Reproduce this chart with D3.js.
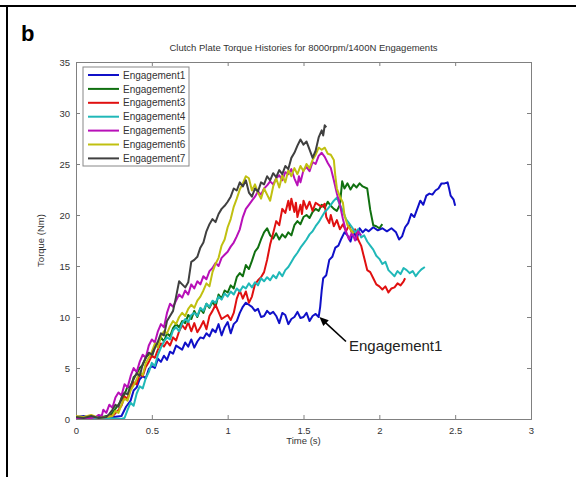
<!DOCTYPE html>
<html><head><meta charset="utf-8">
<script src="https://cdn.jsdelivr.net/npm/d3@7"></script>
<style>body{margin:0;background:#fff}svg{display:block}text{font-family:"Liberation Sans",Arial,sans-serif}</style>
</head><body>
<script>
const seriesNames = ["Engagement1","Engagement2","Engagement3","Engagement4","Engagement5","Engagement6","Engagement7"];
const seriesColors = ["#1010c8","#107010","#e01010","#20b8b8","#b810b8","#c0c010","#404040"];
const xTicks = [0,0.5,1,1.5,2,2.5,3];
const yTicks = [0,5,10,15,20,25,30,35];
const titleText = "Clutch Plate Torque Histories for 8000rpm/1400N Engagements";
const xLabel = "Time (s)";
const yLabel = "Torque (Nm)";
const annotation = {text:"Engagement1", point:[1.605,10.0], tail:[1.78,7.6]};

const eng1 = [[0,0.2],[0.05,0.3],[0.1,0.1],[0.15,0.2],[0.2,0.1],[0.25,0.2],[0.3,0.3],[0.33,1.2],[0.36,1.8],[0.38,2.8],[0.4,3.1],[0.42,3.9],[0.44,4.2],[0.46,4.0],[0.48,4.9],[0.5,5.2],[0.52,5.0],[0.54,5.9],[0.56,5.6],[0.58,6.2],[0.6,5.8],[0.62,6.6],[0.64,6.4],[0.66,7.2],[0.68,7.0],[0.7,6.8],[0.72,7.5],[0.74,7.1],[0.76,7.8],[0.78,7.0],[0.8,7.6],[0.82,8.0],[0.84,7.9],[0.86,8.4],[0.88,8.1],[0.9,8.8],[0.92,8.5],[0.94,9.3],[0.96,8.2],[0.98,9.0],[1.0,9.5],[1.02,8.4],[1.04,9.3],[1.06,9.6],[1.08,10.4],[1.1,11.0],[1.12,11.4],[1.14,11.2],[1.16,11.0],[1.18,10.6],[1.2,10.8],[1.22,10.0],[1.24,10.1],[1.26,10.6],[1.28,10.3],[1.3,10.5],[1.32,10.1],[1.34,9.4],[1.36,10.4],[1.38,10.2],[1.4,9.3],[1.42,9.8],[1.44,10.0],[1.46,10.5],[1.48,9.9],[1.5,10.0],[1.52,10.4],[1.54,9.6],[1.56,10.1],[1.58,10.3],[1.6,10.0],[1.61,11.0],[1.62,12.6],[1.63,13.8],[1.65,14.1],[1.67,15.6],[1.69,15.9],[1.71,16.8],[1.73,17.0],[1.75,17.7],[1.77,18.3],[1.79,18.0],[1.81,17.4],[1.83,18.5],[1.85,17.6],[1.87,18.7],[1.89,18.3],[1.91,18.6],[1.93,18.4],[1.96,18.8],[1.99,18.5],[2.02,18.7],[2.05,18.4],[2.08,18.7],[2.11,18.3],[2.13,17.6],[2.15,17.9],[2.17,18.8],[2.19,19.2],[2.21,20.1],[2.23,19.8],[2.25,20.6],[2.27,21.4],[2.29,21.0],[2.31,21.9],[2.33,22.1],[2.35,22.0],[2.37,22.4],[2.39,22.6],[2.41,23.1],[2.43,23.1],[2.45,23.2],[2.46,22.6],[2.47,21.9],[2.49,21.5],[2.5,20.9]];
const eng2 = [[0,0.1],[0.05,0.2],[0.1,0.0],[0.15,0.1],[0.2,0.3],[0.22,0.2],[0.25,0.8],[0.28,1.4],[0.3,1.9],[0.32,2.4],[0.34,3.2],[0.36,3.0],[0.38,4.1],[0.4,4.4],[0.42,5.0],[0.44,5.3],[0.46,6.0],[0.48,6.4],[0.5,6.1],[0.52,7.0],[0.54,7.4],[0.56,8.0],[0.58,7.6],[0.6,8.4],[0.62,8.1],[0.64,8.9],[0.66,9.3],[0.68,9.0],[0.7,9.6],[0.72,9.4],[0.74,10.2],[0.76,9.8],[0.78,10.6],[0.8,10.0],[0.82,10.8],[0.84,10.4],[0.86,11.3],[0.88,10.9],[0.9,11.5],[0.92,11.0],[0.94,12.2],[0.96,11.8],[0.98,12.6],[1.0,12.4],[1.02,13.1],[1.04,12.8],[1.06,13.9],[1.08,14.3],[1.1,14.0],[1.12,15.1],[1.14,14.7],[1.16,15.5],[1.18,16.4],[1.2,16.8],[1.22,17.6],[1.24,18.3],[1.26,18.7],[1.28,18.0],[1.3,17.7],[1.32,18.2],[1.34,17.6],[1.36,18.1],[1.38,17.8],[1.4,18.3],[1.42,18.0],[1.44,19.0],[1.46,19.4],[1.48,19.1],[1.5,19.8],[1.52,20.0],[1.54,19.7],[1.56,20.3],[1.58,20.6],[1.6,20.4],[1.62,21.0],[1.64,20.7],[1.66,21.3],[1.68,20.9],[1.7,20.6],[1.72,20.4],[1.74,21.0],[1.755,23.3],[1.77,22.6],[1.79,23.1],[1.81,22.5],[1.83,23.0],[1.85,22.7],[1.87,23.1],[1.89,22.8],[1.92,22.6],[1.94,20.5],[1.96,19.0],[1.98,18.9],[2.0,18.7],[2.02,19.1]];
const eng3 = [[0,0.2],[0.05,0.0],[0.1,0.1],[0.15,0.0],[0.2,0.2],[0.25,0.4],[0.28,0.9],[0.3,1.3],[0.32,2.2],[0.34,2.0],[0.36,3.0],[0.38,3.6],[0.4,3.4],[0.42,4.4],[0.44,4.2],[0.46,5.1],[0.48,5.6],[0.5,6.2],[0.52,6.0],[0.54,6.8],[0.56,7.4],[0.58,7.1],[0.6,7.6],[0.62,7.2],[0.64,8.0],[0.66,7.7],[0.68,8.6],[0.7,9.2],[0.72,8.8],[0.74,9.5],[0.76,8.6],[0.78,9.4],[0.8,8.5],[0.82,9.0],[0.84,9.6],[0.86,8.8],[0.88,10.1],[0.9,10.6],[0.92,11.2],[0.94,10.5],[0.96,9.8],[0.98,10.0],[1.0,10.2],[1.02,9.7],[1.04,10.4],[1.06,11.8],[1.08,12.6],[1.1,11.8],[1.12,12.5],[1.14,11.4],[1.16,12.0],[1.18,13.2],[1.2,13.6],[1.22,13.9],[1.24,14.4],[1.26,15.6],[1.28,17.1],[1.3,18.2],[1.32,19.4],[1.34,19.0],[1.36,20.6],[1.38,20.2],[1.4,21.4],[1.41,20.5],[1.42,21.6],[1.44,20.3],[1.45,21.2],[1.46,19.8],[1.48,21.0],[1.49,20.1],[1.5,21.4],[1.52,20.6],[1.54,21.3],[1.56,20.4],[1.58,21.2],[1.6,21.0],[1.62,20.8],[1.64,21.1],[1.65,19.8],[1.67,19.2],[1.68,20.0],[1.7,18.9],[1.72,19.5],[1.74,18.6],[1.76,19.1],[1.78,18.4],[1.8,19.0],[1.82,18.2],[1.84,18.6],[1.86,17.6],[1.88,17.0],[1.9,15.8],[1.92,14.6],[1.94,14.4],[1.96,13.8],[1.98,13.2],[2.0,13.0],[2.02,12.7],[2.04,13.0],[2.06,12.4],[2.08,12.8],[2.1,12.9],[2.12,13.3],[2.14,13.1],[2.16,13.5],[2.17,13.8]];
const eng4 = [[0,0.1],[0.1,0.0],[0.2,0.1],[0.3,0.0],[0.32,0.1],[0.34,0.9],[0.36,1.6],[0.38,1.3],[0.4,2.5],[0.42,3.2],[0.44,3.0],[0.46,4.0],[0.48,4.6],[0.5,5.5],[0.52,5.2],[0.54,6.3],[0.56,7.0],[0.58,7.6],[0.6,8.0],[0.62,7.8],[0.64,8.7],[0.66,9.0],[0.68,8.6],[0.7,9.4],[0.72,9.8],[0.74,9.5],[0.76,10.2],[0.78,10.4],[0.8,10.1],[0.82,10.9],[0.84,10.6],[0.86,11.3],[0.88,11.0],[0.9,11.6],[0.92,11.4],[0.94,12.0],[0.96,11.7],[0.98,12.3],[1.0,12.0],[1.02,12.5],[1.04,12.2],[1.06,12.8],[1.08,12.5],[1.1,13.0],[1.12,12.8],[1.14,13.3],[1.16,12.9],[1.18,13.4],[1.2,13.1],[1.22,13.8],[1.24,13.5],[1.26,13.9],[1.28,13.6],[1.3,14.1],[1.32,13.8],[1.34,14.4],[1.36,14.0],[1.38,14.6],[1.4,14.9],[1.42,15.4],[1.44,15.9],[1.46,16.3],[1.48,16.8],[1.5,17.2],[1.52,17.6],[1.54,18.1],[1.56,18.4],[1.58,18.9],[1.6,19.3],[1.62,19.8],[1.64,20.3],[1.66,20.6],[1.68,21.0],[1.7,21.4],[1.72,21.7],[1.74,21.0],[1.76,20.4],[1.78,19.6],[1.8,19.2],[1.82,18.8],[1.84,18.3],[1.86,18.6],[1.88,17.8],[1.9,18.0],[1.92,17.4],[1.94,17.0],[1.96,16.6],[1.98,16.0],[2.0,15.7],[2.02,15.2],[2.04,15.4],[2.06,14.6],[2.08,14.3],[2.1,14.0],[2.12,14.5],[2.14,14.2],[2.16,14.8],[2.18,14.6],[2.2,14.3],[2.22,14.5],[2.24,14.0],[2.26,14.4],[2.28,14.7],[2.3,14.9]];
const eng5 = [[0,0.1],[0.05,0.0],[0.1,0.1],[0.13,0.2],[0.15,0.4],[0.17,0.3],[0.18,0.9],[0.2,0.6],[0.22,1.4],[0.24,1.1],[0.26,2.1],[0.28,2.6],[0.3,2.3],[0.32,3.4],[0.34,3.1],[0.36,4.2],[0.38,5.0],[0.4,4.6],[0.42,5.6],[0.44,6.3],[0.46,6.0],[0.48,7.2],[0.5,7.8],[0.52,7.5],[0.54,8.6],[0.56,9.3],[0.58,9.0],[0.6,10.4],[0.62,11.3],[0.64,11.0],[0.66,11.6],[0.68,12.2],[0.7,11.9],[0.72,12.6],[0.74,12.2],[0.76,13.2],[0.78,12.8],[0.8,13.5],[0.82,13.2],[0.84,14.0],[0.86,13.7],[0.88,14.5],[0.9,14.8],[0.92,15.3],[0.94,15.0],[0.96,15.8],[0.98,16.1],[1.0,16.4],[1.02,16.9],[1.04,17.3],[1.06,17.9],[1.08,18.6],[1.1,19.8],[1.12,20.6],[1.14,21.0],[1.16,21.4],[1.18,21.8],[1.2,22.3],[1.22,22.0],[1.24,22.6],[1.26,22.9],[1.28,23.3],[1.3,23.0],[1.32,23.6],[1.34,23.9],[1.36,23.4],[1.38,24.2],[1.4,24.0],[1.42,24.5],[1.44,23.6],[1.46,22.9],[1.47,23.8],[1.48,23.2],[1.5,24.4],[1.52,24.7],[1.54,24.3],[1.56,25.2],[1.58,25.0],[1.6,25.8],[1.62,26.1],[1.64,25.7],[1.66,25.1],[1.68,24.6],[1.7,23.4],[1.72,22.1],[1.74,21.0],[1.76,19.6],[1.78,18.4],[1.8,17.6],[1.82,18.3],[1.84,17.5],[1.86,18.4],[1.88,18.0]];
const eng6 = [[0,0.3],[0.05,0.2],[0.1,0.4],[0.15,0.1],[0.2,0.2],[0.24,0.3],[0.26,0.8],[0.28,0.6],[0.3,1.4],[0.32,2.0],[0.34,1.8],[0.36,2.8],[0.38,3.3],[0.4,3.9],[0.42,4.6],[0.44,4.3],[0.46,5.5],[0.48,6.0],[0.5,6.6],[0.52,7.4],[0.54,7.0],[0.56,8.1],[0.58,8.6],[0.6,8.4],[0.62,9.1],[0.64,9.6],[0.66,9.3],[0.68,10.0],[0.7,10.4],[0.72,10.1],[0.74,10.8],[0.76,11.2],[0.78,10.9],[0.8,11.6],[0.82,12.0],[0.84,12.6],[0.86,13.3],[0.88,13.0],[0.9,14.4],[0.92,15.2],[0.94,15.8],[0.96,17.0],[0.98,17.6],[1.0,18.8],[1.02,19.6],[1.04,20.8],[1.06,21.6],[1.08,22.5],[1.1,23.1],[1.12,23.8],[1.14,23.6],[1.16,22.4],[1.18,23.0],[1.2,22.2],[1.22,21.6],[1.24,22.6],[1.26,22.0],[1.28,21.4],[1.3,22.8],[1.32,23.6],[1.34,22.7],[1.36,23.9],[1.38,23.2],[1.4,24.4],[1.42,23.8],[1.44,24.6],[1.46,24.0],[1.48,24.8],[1.5,24.3],[1.52,25.0],[1.54,24.6],[1.56,25.4],[1.58,25.9],[1.6,26.6],[1.62,26.4],[1.64,26.6],[1.66,26.0],[1.68,25.9],[1.7,25.4],[1.71,23.8],[1.72,22.6],[1.74,21.8],[1.76,21.2],[1.77,20.0],[1.79,19.0],[1.81,18.6],[1.83,18.2]];
const eng7 = [[0,0.2],[0.05,0.1],[0.1,0.3],[0.15,0.1],[0.2,0.2],[0.22,0.5],[0.24,0.9],[0.26,1.4],[0.28,1.2],[0.3,2.1],[0.32,2.6],[0.34,2.4],[0.36,3.3],[0.38,3.9],[0.4,4.5],[0.42,4.2],[0.44,5.4],[0.46,6.0],[0.48,6.5],[0.5,6.3],[0.52,7.0],[0.54,7.6],[0.56,8.4],[0.58,8.2],[0.6,9.6],[0.62,10.1],[0.64,10.6],[0.66,12.0],[0.68,13.5],[0.7,13.2],[0.72,12.9],[0.74,13.4],[0.76,15.4],[0.78,15.6],[0.8,15.9],[0.82,16.8],[0.84,17.3],[0.86,18.4],[0.88,19.1],[0.9,19.6],[0.92,19.3],[0.94,20.1],[0.96,20.6],[0.98,20.9],[1.0,21.3],[1.02,21.8],[1.04,22.6],[1.06,22.4],[1.08,23.2],[1.1,22.8],[1.12,23.4],[1.14,22.2],[1.16,21.8],[1.18,22.6],[1.2,22.3],[1.22,23.2],[1.24,23.0],[1.26,23.8],[1.28,23.4],[1.3,24.1],[1.32,23.7],[1.34,24.4],[1.36,24.0],[1.38,24.8],[1.4,24.5],[1.42,25.6],[1.44,26.1],[1.46,26.8],[1.48,27.4],[1.5,26.9],[1.52,27.2],[1.54,26.4],[1.56,25.6],[1.58,26.3],[1.6,27.6],[1.62,28.3],[1.63,27.8],[1.64,28.8],[1.65,28.6]];
const allSeries = [eng1,eng2,eng3,eng4,eng5,eng6,eng7];

const W = 576, H = 477;
const m = {left:76, right:45, top:62, bottom:58};
const svg = d3.select("body").append("svg").attr("width",W).attr("height",H);

// outer frame lines
svg.append("line").attr("x1",0).attr("x2",W).attr("y1",6).attr("y2",6).attr("stroke","#000").attr("stroke-width",2);
svg.append("line").attr("x1",7).attr("x2",7).attr("y1",5).attr("y2",H).attr("stroke","#000").attr("stroke-width",2);
svg.append("text").attr("x",21).attr("y",41).attr("font-size",22).attr("font-weight","bold").attr("fill","#000").text("b");

const x = d3.scaleLinear().domain([0,3]).range([m.left, W-m.right]);
const y = d3.scaleLinear().domain([0,35]).range([H-m.bottom, m.top]);

const axisColor = "#808080", textColor = "#333";
const g = svg.append("g");

const xb = g.append("g").attr("transform",`translate(0,${y(0)})`).call(d3.axisBottom(x).tickValues(xTicks).tickSize(-4).tickPadding(6).tickFormat(d3.format("")));
const xt = g.append("g").attr("transform",`translate(0,${y(35)})`).call(d3.axisTop(x).tickValues(xTicks).tickSize(-4).tickFormat(""));
const yl = g.append("g").attr("transform",`translate(${x(0)},0)`).call(d3.axisLeft(y).tickValues(yTicks).tickSize(-4).tickPadding(6));
const yr = g.append("g").attr("transform",`translate(${x(3)},0)`).call(d3.axisRight(y).tickValues(yTicks).tickSize(-4).tickFormat(""));
[xb,xt,yl,yr].forEach(a=>{
  a.selectAll("path").attr("stroke",axisColor);
  a.selectAll("line").attr("stroke",axisColor);
  a.selectAll("text").attr("fill",textColor).attr("font-size",9.5).attr("font-family","'Liberation Sans',Arial,sans-serif");
});
xb.selectAll("text").attr("dy","0.9em");

svg.append("text").attr("x",(x(0)+x(3))/2).attr("y",51).attr("text-anchor","middle").attr("font-size",9.5).attr("fill",textColor).text(titleText);
svg.append("text").attr("x",(x(0)+x(3))/2).attr("y",444).attr("text-anchor","middle").attr("font-size",9.5).attr("fill",textColor).text(xLabel);
svg.append("text").attr("transform",`translate(44,${(y(0)+y(35))/2}) rotate(-90)`).attr("text-anchor","middle").attr("font-size",9.5).attr("fill",textColor).text(yLabel);

const line = d3.line().x(d=>x(d[0])).y(d=>y(d[1]));
svg.append("clipPath").attr("id","pc").append("rect").attr("x",x(0)).attr("y",y(35)).attr("width",x(3)-x(0)).attr("height",y(0)-y(35));
const lg = svg.append("g").attr("clip-path","url(#pc)");
allSeries.forEach((s,i)=>{
  lg.append("path").datum(s).attr("d",line).attr("fill","none").attr("stroke",seriesColors[i]).attr("stroke-width",2).attr("stroke-linejoin","round");
});

const leg = svg.append("g");
leg.append("rect").attr("x",83).attr("y",67).attr("width",106).attr("height",99).attr("fill","#fff").attr("stroke","#888").attr("stroke-width",1);
seriesNames.forEach((n,i)=>{
  const yy = 75 + i*13.9;
  leg.append("line").attr("x1",88).attr("x2",119).attr("y1",yy).attr("y2",yy).attr("stroke",seriesColors[i]).attr("stroke-width",2);
  leg.append("text").attr("x",123).attr("y",yy+3.6).attr("font-size",10).attr("fill",textColor).text(n);
});

const [px,py] = [x(annotation.point[0]), y(annotation.point[1])];
const [tx,ty] = [x(annotation.tail[0]), y(annotation.tail[1])];
const ang = Math.atan2(py-ty, px-tx);
svg.append("line").attr("x1",tx).attr("y1",ty).attr("x2",px-6*Math.cos(ang)).attr("y2",py-6*Math.sin(ang)).attr("stroke","#000").attr("stroke-width",1.6);
const ah = 9, aw = 4;
const pts = [[px,py],[px-ah*Math.cos(ang)+aw*Math.sin(ang), py-ah*Math.sin(ang)-aw*Math.cos(ang)],[px-ah*Math.cos(ang)-aw*Math.sin(ang), py-ah*Math.sin(ang)+aw*Math.cos(ang)]];
svg.append("polygon").attr("points",pts.map(p=>p.join(",")).join(" ")).attr("fill","#000");
svg.append("text").attr("x",tx+3).attr("y",ty+10).attr("font-size",15).attr("fill","#222").text(annotation.text);
</script>
</body></html>
